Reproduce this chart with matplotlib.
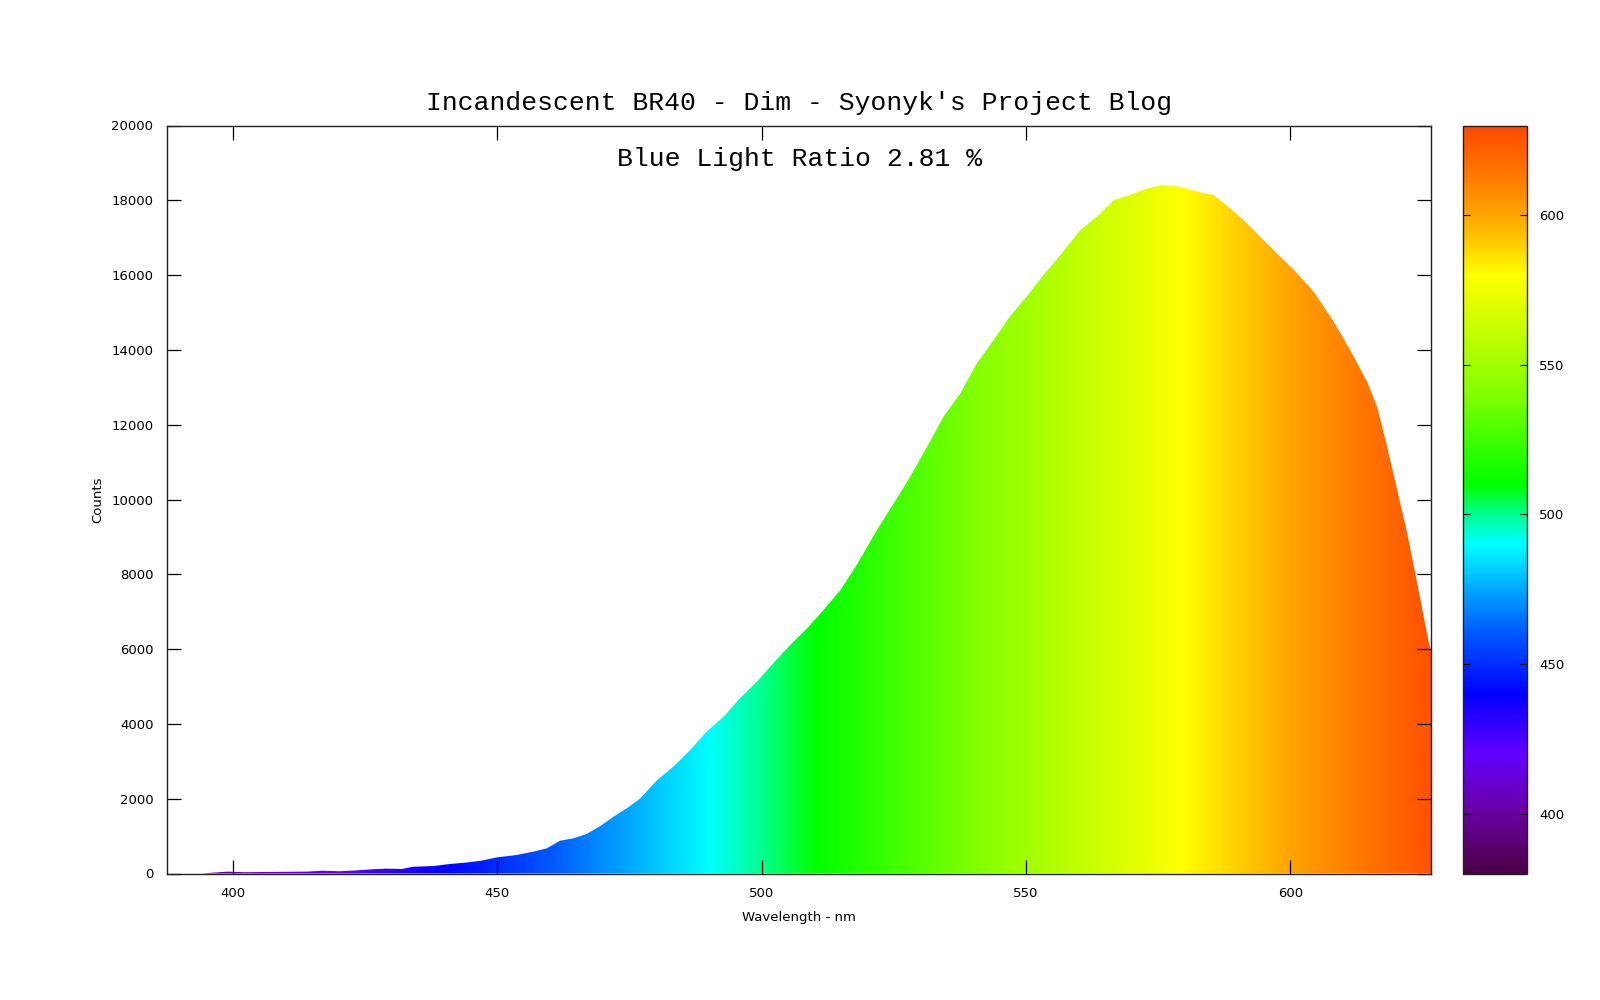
import numpy as np
import matplotlib
matplotlib.use("Agg")
import matplotlib.pyplot as plt
from matplotlib.colors import LinearSegmentedColormap, Normalize
from matplotlib.cm import ScalarMappable
from matplotlib.patches import Polygon

# ---- data ----
wavelength = [388, 394, 396, 399, 402, 406, 410, 414, 417, 420, 423, 426, 429, 432,
              434, 438, 441, 444, 447, 450, 453.7, 456.8, 459.4, 461.9, 464.4, 466.9,
              469.5, 472.0, 474.5, 477.0, 480.2, 483.3, 486.5, 489.6, 492.8, 495.9,
              499.1, 502.2, 505.4, 508.6, 511.7, 514.9, 518.0, 521.8, 525.0, 528.1,
              531.3, 534.4, 537.6, 540.7, 543.9, 547, 550, 553, 556, 560.3, 563.4,
              566.6, 569.7, 572.9, 576.0, 579.2, 582.3, 585.5, 588.6, 591.8, 594.9,
              598.1, 601.3, 604.4, 608.2, 611.3, 614.5, 616.4, 618.3, 620.2, 622.1,
              624.0, 626.2, 626.6]
counts = [0, 0, 20, 50, 35, 40, 45, 50, 75, 60, 80, 110, 130, 120,
          180, 200, 254, 290, 343, 433, 495, 583, 674, 877, 941, 1056,
          1270, 1519, 1743, 2000, 2490, 2856, 3302, 3791, 4193, 4684,
          5128, 5620, 6110, 6556, 7045, 7580, 8250, 9184, 9898, 10610,
          11412, 12214, 12840, 13642, 14265, 14900, 15400, 15950, 16450, 17206, 17561,
          18008, 18141, 18320, 18409, 18364, 18231, 18141, 17786, 17385, 16939,
          16493, 16048, 15556, 14754, 13997, 13150, 12481, 11412, 10254, 9096,
          7759, 6155, 5976]

title = "Incandescent BR40 - Dim - Syonyk's Project Blog"
annotation = "Blue Light Ratio 2.81 %"
x_ticks = [400, 450, 500, 550, 600]
y_ticks = [0, 2000, 4000, 6000, 8000, 10000, 12000, 14000, 16000, 18000, 20000]
cbar_ticks = [400, 450, 500, 550, 600]

# palette: wavelength -> colour
pal_nm = [380, 400, 420, 440, 460, 475, 490, 500, 510, 520, 540, 560, 580, 590, 600, 615, 630]
pal_col = ["#4a0045", "#6a00a0", "#6000ff", "#0000ff", "#0058ff", "#00a8ff", "#00ffff",
           "#00ff90", "#00ff00", "#28ff00", "#80ff00", "#c0ff00", "#ffff00", "#ffd000",
           "#ffa500", "#ff7400", "#ff4800"]
vmin, vmax = 380, 630
cmap = LinearSegmentedColormap.from_list(
    "spec", [((n - vmin) / (vmax - vmin), c) for n, c in zip(pal_nm, pal_col)], N=512)
norm = Normalize(vmin, vmax)

fig = plt.figure(figsize=(16, 10), dpi=100)
W, H = 1600, 1000
ax = fig.add_axes([167.3 / W, 1 - 873.5 / H, (1431 - 167.3) / W, (873.5 - 125.5) / H])
cax = fig.add_axes([1463 / W, 1 - 873.5 / H, (1526.5 - 1463) / W, (873.5 - 125.5) / H])

xmin, xmax = 387.6, 626.6
ymin, ymax = 0, 20000

grad = np.linspace(xmin, xmax, 1200).reshape(1, -1)
im = ax.imshow(grad, extent=[xmin, xmax, ymin, ymax], aspect="auto", cmap=cmap,
               norm=norm, origin="lower", interpolation="bilinear", zorder=1)
verts = [(wavelength[0], 0)] + list(zip(wavelength, counts)) + [(wavelength[-1], 0)]
poly = Polygon(verts, closed=True, facecolor="none", edgecolor="none", transform=ax.transData)
ax.add_patch(poly)
im.set_clip_path(poly)

ax.set_xlim(xmin, xmax)
ax.set_ylim(ymin, ymax)
ax.set_xticks(x_ticks)
ax.set_yticks(y_ticks)
ax.tick_params(direction="in", length=10, width=0.9, top=True, right=True,
               labelsize=9.5, colors="black", pad=10)
ax.tick_params(axis="y", pad=10)
for s in ax.spines.values():
    s.set_linewidth(1.0)
    s.set_color("#222222")
ax.set_xlabel("Wavelength - nm", fontsize=9.5, labelpad=8)
ax.set_ylabel("Counts", fontsize=9.5, labelpad=5)

ax.set_title(title, family="Liberation Mono", fontsize=19, pad=11)
ax.text(0.5, 0.955, annotation, transform=ax.transAxes, ha="center", va="center",
        family="Liberation Mono", fontsize=19)

cb = fig.colorbar(ScalarMappable(norm=norm, cmap=cmap), cax=cax, ticks=cbar_ticks)
cb.outline.set_linewidth(1.0)
cb.outline.set_edgecolor("#222222")
cax.tick_params(direction="in", length=5, width=0.8, left=True, right=True,
                labelsize=9.5, pad=9)

fig.savefig("out.png", dpi=100, facecolor="white")
